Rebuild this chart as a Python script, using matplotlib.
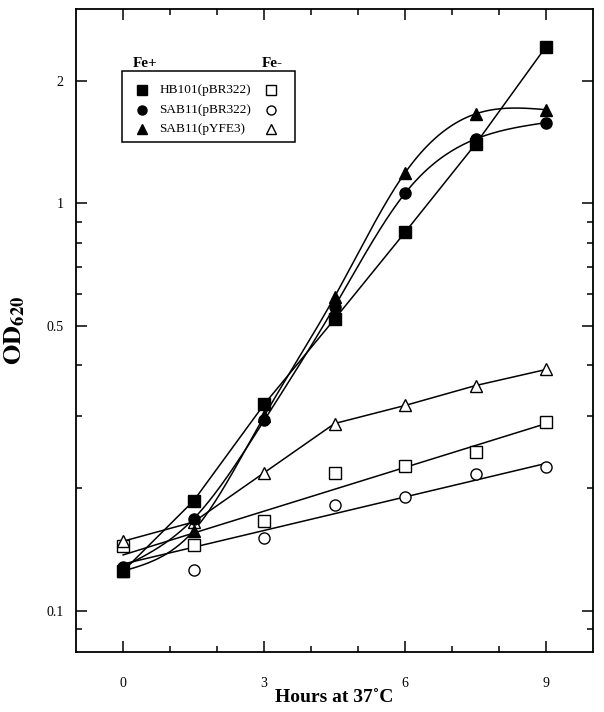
import numpy as np
import matplotlib
matplotlib.use('Agg')
import matplotlib.pyplot as plt
from matplotlib.patches import Rectangle

plt.rcParams['font.family'] = ['Liberation Serif', 'DejaVu Serif']
plt.rcParams['mathtext.fontset'] = 'stix'

hours = [0, 1.5, 3, 4.5, 6, 7.5, 9]

# Fe+ (filled symbols)
hb101_fe = [0.125, 0.186, 0.321, 0.52, 0.85, 1.40, 2.43]
sab_pbr_fe = [0.128, 0.168, 0.293, 0.558, 1.06, 1.44, 1.58]
sab_pyfe_fe = [0.125, 0.157, 0.30, 0.59, 1.19, 1.66, 1.70]

# Fe- (open symbols)
hb101_nofe = [0.144, 0.145, 0.166, 0.218, 0.226, 0.245, 0.291]
sab_pbr_nofe = [0.144, 0.126, 0.151, 0.182, 0.190, 0.217, 0.225]
sab_pyfe_nofe = [0.148, 0.165, 0.218, 0.288, 0.319, 0.357, 0.391]

strains = ['HB101(pBR322)', 'SAB11(pBR322)', 'SAB11(pYFE3)']
markers = ['s', 'o', '^']

y_major = [0.1, 0.5, 1, 2]
y_major_labels = ['0.1', '0.5', '1', '2']
y_minor = [0.09, 0.2, 0.3, 0.4, 0.6, 0.7, 0.8, 0.9]
x_major = [0, 3, 6, 9]
x_minor = [1, 2, 4, 5, 7, 8]

x = np.array(hours, dtype=float)
xs = np.linspace(0, 9, 300)


def logfit(y, deg):
    # straight fit in log space
    c = np.polyfit(x, np.log10(y), deg)
    return 10 ** np.polyval(c, xs)


def smooth(y):
    # natural cubic spline through the points, in log space
    yk = np.log10(y)
    n = len(x)
    h = np.diff(x)
    A = np.zeros((n - 2, n - 2))
    b = np.zeros(n - 2)
    for i in range(1, n - 1):
        if i - 2 >= 0:
            A[i - 1, i - 2] = h[i - 1]
        A[i - 1, i - 1] = 2 * (h[i - 1] + h[i])
        if i < n - 2:
            A[i - 1, i] = h[i]
        b[i - 1] = 6 * ((yk[i + 1] - yk[i]) / h[i] - (yk[i] - yk[i - 1]) / h[i - 1])
    M = np.zeros(n)
    M[1:-1] = np.linalg.solve(A, b)
    idx = np.clip(np.searchsorted(x, xs) - 1, 0, n - 2)
    x0, x1 = x[idx], x[idx + 1]
    hh = x1 - x0
    t0, t1 = x1 - xs, xs - x0
    out = (M[idx] * t0 ** 3 / (6 * hh) + M[idx + 1] * t1 ** 3 / (6 * hh)
           + (yk[idx] / hh - M[idx] * hh / 6) * t0
           + (yk[idx + 1] / hh - M[idx + 1] * hh / 6) * t1)
    return 10 ** out


fig = plt.figure(figsize=(6.04, 7.12), dpi=100)
ax = fig.add_axes([0.126, 0.084, 0.856, 0.903])

lw = 1.1
# curves
ax.plot(hours, hb101_fe, color='k', lw=lw)
ax.plot(xs, smooth(sab_pbr_fe), color='k', lw=lw)
ax.plot(xs, smooth(sab_pyfe_fe), color='k', lw=lw)
ax.plot(xs, logfit(hb101_nofe, 1), color='k', lw=lw)
ax.plot(xs, logfit(sab_pbr_nofe, 1), color='k', lw=lw)
ax.plot(hours, sab_pyfe_nofe, color='k', lw=lw)

# symbols
sizes = {'s': 8, 'o': 8, '^': 8.5}
for vals, m in zip([sab_pbr_nofe, hb101_nofe, sab_pyfe_nofe], ['o', 's', '^']):
    ax.plot(hours, vals, m, ms=sizes[m], mfc='white', mec='k', mew=1.0, zorder=3)
for vals, m in zip([hb101_fe, sab_pbr_fe, sab_pyfe_fe], markers):
    ax.plot(hours, vals, m, ms=sizes[m], mfc='k', mec='k', zorder=4)

ax.set_yscale('log')
ax.set_ylim(0.079, 3)
ax.set_xlim(-1, 10)
ax.set_yticks(y_major)
ax.set_yticklabels(y_major_labels)
ax.set_yticks(y_minor, minor=True)
ax.set_yticklabels([], minor=True)
ax.set_xticks(x_major)
ax.set_xticks(x_minor, minor=True)

ax.tick_params(which='both', direction='in', top=True, right=True, width=1.1,
               labelsize=10)
ax.tick_params(which='major', length=8)
ax.tick_params(which='minor', length=4.5)
ax.tick_params(axis='x', pad=18)
ax.tick_params(axis='y', pad=9)
for sp in ax.spines.values():
    sp.set_linewidth(1.3)

ax.set_xlabel('Hours at 37˚C', fontsize=14, fontweight='bold')
ax.xaxis.set_label_coords(0.5, -0.057)
ax.set_ylabel(r'$\mathbf{OD}_{\mathbf{620}}$', fontsize=19)
ax.yaxis.set_label_coords(-0.095, 0.5)

# legend box
ax.add_patch(Rectangle((0.089, 0.793), 0.334, 0.111, transform=ax.transAxes,
                       fill=False, lw=1.1, color='k', zorder=5))
ax.text(0.134, 0.916, 'Fe+', transform=ax.transAxes, ha='center', va='center',
        fontsize=11, fontweight='bold')
ax.text(0.380, 0.916, 'Fe-', transform=ax.transAxes, ha='center', va='center',
        fontsize=11, fontweight='bold')
rows = [0.875, 0.843, 0.813]
for name, m, ry in zip(strains, markers, rows):
    ax.plot([0.128], [ry], m, ms=6.5, mfc='k', mec='k', transform=ax.transAxes, zorder=6)
    ax.plot([0.376], [ry], m, ms=6.5, mfc='white', mec='k', mew=1.0,
            transform=ax.transAxes, zorder=6)
    ax.text(0.161, ry, name, transform=ax.transAxes, ha='left', va='center',
            fontsize=9.5)

fig.savefig('out.png', dpi=100)
